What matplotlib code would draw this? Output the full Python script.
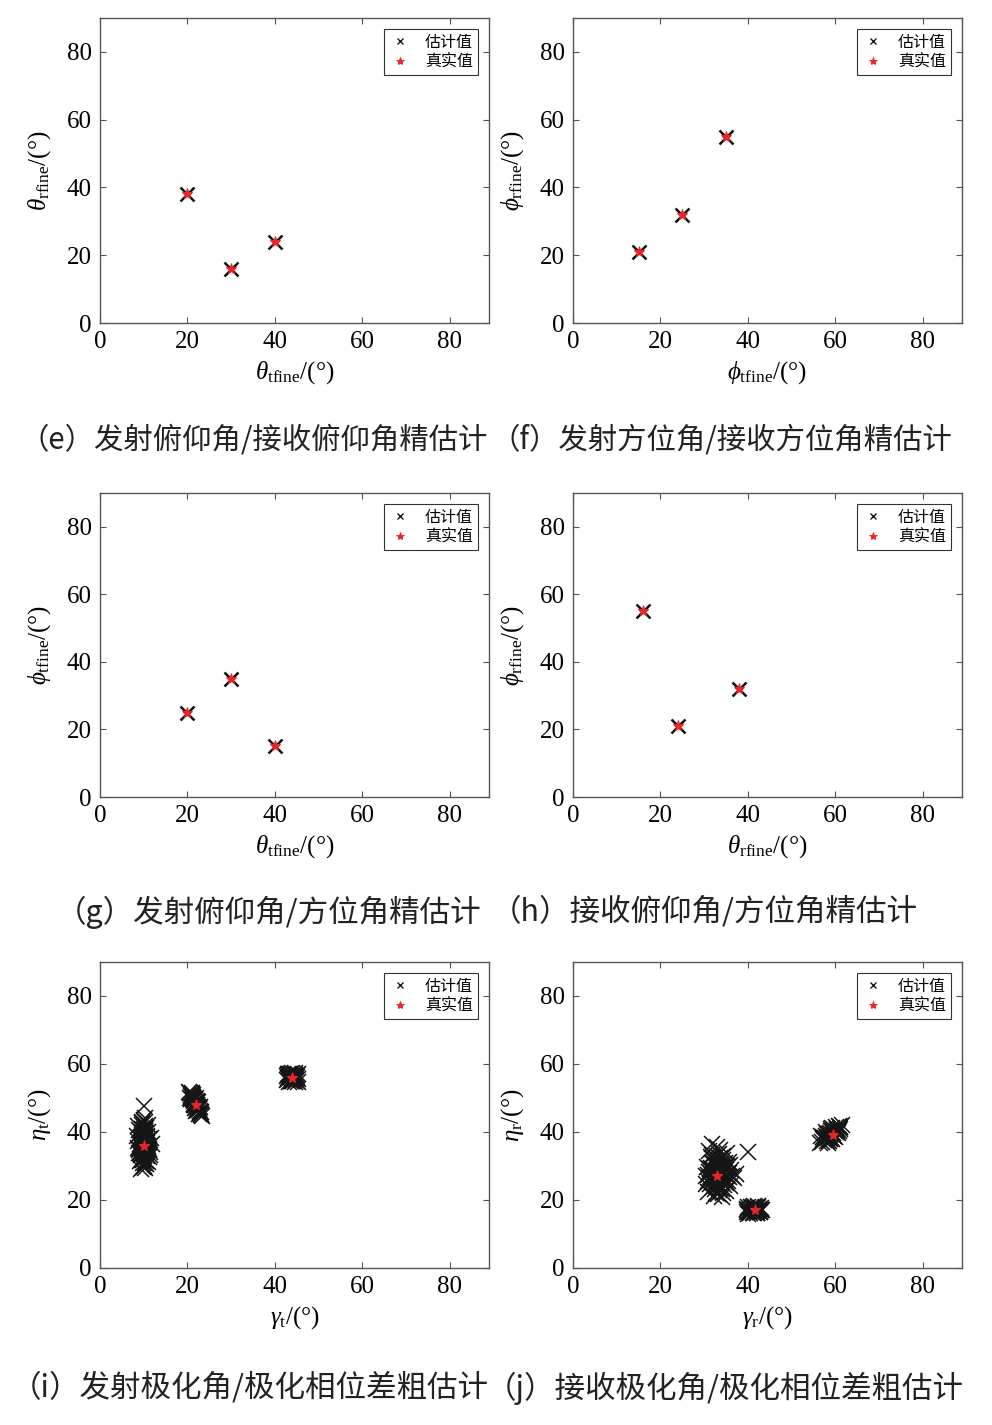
import matplotlib
matplotlib.use("Agg")
import matplotlib.pyplot as plt
from matplotlib.lines import Line2D

plt.rcParams['font.family'] = ['Liberation Serif', 'Noto Sans CJK SC', 'DejaVu Sans']
plt.rcParams['mathtext.fontset'] = 'custom'
plt.rcParams['mathtext.rm'] = 'Liberation Serif'
plt.rcParams['mathtext.it'] = 'Liberation Serif:italic'

# ---------------- data ----------------
ticks = [0, 20, 40, 60, 80]

# (e) theta_t vs theta_r
e_true_x = [20, 30, 40]
e_true_y = [38, 16, 24]
# (f) phi_t vs phi_r
f_true_x = [15, 25, 35]
f_true_y = [21, 32, 55]
# (g) theta_t vs phi_t
g_true_x = [20, 30, 40]
g_true_y = [25, 35, 15]
# (h) theta_r vs phi_r
h_true_x = [16, 24, 38]
h_true_y = [55, 21, 32]

# (i) gamma_t vs eta_t : true values
i_true_x = [10, 22, 44]
i_true_y = [36, 48, 56]
# estimates, cluster 1
i_est1_x = [9.2, 10.5, 9.8, 10.9, 8.6, 11.3, 9.5, 10.1, 10.8, 9.0, 11.6, 10.3, 8.9, 9.7, 10.6,
            11.1, 9.3, 10.0, 8.4, 10.7, 9.9, 11.4, 9.6, 10.2, 8.8, 10.4, 11.8, 9.4, 10.9, 9.1,
            10.5, 11.0, 9.7, 10.3, 8.7, 9.8, 11.2, 10.1, 9.5, 10.6, 10.0, 9.0, 10.4, 11.5, 9.3,
            9.6, 10.2, 9.1, 10.8, 9.9, 10.4, 9.3, 11.0, 10.0, 9.5, 10.7, 9.8, 10.3, 9.2, 10.9,
            9.7, 10.1, 9.4, 10.6, 10.0, 9.9, 10.5, 9.0, 11.2, 9.6, 10.2, 9.8, 10.4, 9.3, 10.7,
            10.1, 9.5, 10.8, 9.7, 10.3, 9.1, 10.6, 9.9, 10.0, 10.4]
i_est1_y = [36.2, 33.5, 39.8, 31.2, 37.4, 35.1, 42.6, 30.0, 34.4, 40.5, 38.2, 29.5, 33.8, 37.0, 41.3,
            32.6, 35.7, 43.5, 38.9, 36.8, 31.9, 34.0, 40.9, 37.7, 35.2, 39.3, 36.5, 33.1, 42.1, 38.0,
            30.7, 40.0, 34.9, 44.0, 41.7, 32.2, 37.9, 35.6, 39.1, 31.4, 47.6, 34.7, 36.9, 33.3, 29.0,
            32.0, 34.8, 36.6, 38.4, 30.9, 40.2, 33.6, 36.0, 41.0, 37.2, 33.0, 39.0, 35.4, 31.6, 37.6,
            42.0, 32.8, 38.6, 35.9, 34.2, 29.8, 39.6, 35.0, 34.6, 43.0, 31.0, 37.0, 41.8, 39.9, 36.3,
            33.4, 35.8, 38.8, 31.8, 42.8, 33.9, 34.1, 36.8, 38.3, 40.6]
# cluster 2
i_est2_x = [21.0, 22.5, 21.6, 23.0, 20.7, 22.1, 21.3, 22.8, 20.4, 21.9, 23.3, 21.5, 22.4, 20.9, 22.0,
            23.1, 21.2, 22.7, 21.8, 20.6, 22.3, 21.4, 23.2, 22.0, 21.1, 22.6, 21.7, 20.8, 22.9, 21.5,
            21.5, 22.2, 21.0, 22.7, 21.8, 20.9, 22.4, 21.3, 22.0, 21.6, 22.9, 21.1, 22.5, 21.9, 20.7,
            22.3, 21.4, 22.1, 21.7, 22.6, 21.2, 22.8, 21.0, 21.8, 22.2]
i_est2_y = [50.5, 47.2, 49.1, 45.3, 51.4, 48.0, 50.0, 46.1, 51.9, 48.8, 44.6, 49.7, 47.5, 51.0, 48.4,
            45.9, 50.8, 46.7, 47.9, 51.6, 46.4, 49.4, 45.0, 49.9, 50.2, 47.0, 48.6, 50.7, 46.0, 48.2,
            49.3, 47.9, 50.9, 46.9, 48.5, 49.6, 46.5, 50.3, 47.4, 48.1, 45.6, 51.2, 48.9, 46.3, 50.1,
            47.7, 48.0, 49.0, 47.1, 45.4, 49.8, 47.5, 51.5, 49.5, 46.8]
# cluster 3
i_est3_x = [43.0, 44.5, 43.8, 45.2, 42.7, 44.0, 45.4, 43.3, 44.8, 42.9, 43.6, 45.0, 44.2, 43.1, 44.7,
            43.9, 45.3, 42.8, 44.4, 43.5, 43.4, 44.1, 44.6, 43.7, 44.9, 43.2, 44.3, 43.8, 45.1, 43.0,
            44.5, 43.6, 44.0, 44.8, 43.3]
i_est3_y = [57.2, 54.8, 56.1, 57.0, 55.2, 57.4, 55.6, 54.6, 56.6, 56.8, 55.0, 56.3, 54.9, 55.9, 57.3,
            56.0, 54.7, 56.4, 55.5, 57.1, 56.5, 55.3, 56.9, 55.4, 55.8, 56.2, 57.0, 54.9, 56.7, 55.6,
            56.0, 57.2, 55.1, 55.2, 57.1]

# (j) gamma_r vs eta_r : true values
j_true_x = [33, 41.6, 59.5]
j_true_y = [27, 17, 39]
j_est1_x = [31.5, 33.2, 34.6, 32.0, 35.4, 30.8, 33.8, 32.6, 36.2, 31.2, 34.1, 33.0, 35.8, 32.3, 30.4,
            34.9, 33.5, 31.8, 36.8, 32.9, 34.4, 31.0, 35.1, 33.7, 32.1, 30.6, 34.0, 35.6, 31.6, 33.3,
            32.5, 36.0, 34.7, 31.3, 33.9, 35.2, 32.8, 30.9, 34.3, 33.1, 37.2, 31.9, 35.0, 32.4, 33.6, 40.0,
            32.7, 33.4, 34.2, 31.7, 35.0, 32.2, 33.9, 34.8, 31.4, 33.1, 32.4, 35.5, 34.5, 32.9, 33.6,
            31.9, 34.1, 33.3, 32.0, 35.3, 33.8, 34.6, 32.6, 31.1, 33.0, 34.9, 32.3, 33.5, 35.7, 32.8,
            34.0, 31.5, 33.2, 34.4, 32.5, 36.4, 31.2, 33.7, 34.7, 32.1, 30.5, 35.9, 33.4, 31.8, 34.3]
j_est1_y = [29.5, 24.3, 27.8, 32.1, 25.6, 22.4, 30.6, 26.2, 28.9, 34.5, 23.1, 35.6, 31.2, 21.3, 27.0,
            25.0, 29.0, 30.8, 26.4, 27.9, 33.0, 25.7, 22.6, 32.4, 23.8, 29.8, 20.8, 28.0, 26.9, 31.5,
            28.5, 24.2, 30.0, 24.7, 26.0, 33.8, 22.0, 27.4, 31.8, 29.3, 27.6, 36.5, 25.3, 30.3, 23.5, 34.0,
            28.2, 26.8, 29.6, 27.3, 28.7, 24.9, 25.4, 31.0, 29.0, 30.1, 23.3, 27.2, 26.1, 32.8, 28.4,
            25.9, 30.4, 22.8, 28.8, 29.9, 27.0, 24.5, 31.6, 26.6, 25.2, 27.5, 30.9, 33.4, 26.8, 24.0,
            28.9, 32.7, 21.8, 29.4, 27.7, 27.0, 28.3, 34.8, 25.8, 26.3, 24.6, 30.2, 23.9, 33.1, 22.2]
j_est2_x = [40.0, 41.2, 42.5, 39.7, 40.8, 42.0, 43.0, 41.6, 40.3, 42.8, 39.9, 41.0, 42.3, 40.6, 41.9,
            43.2, 40.1, 41.4, 42.6, 41.7, 40.5, 41.5, 42.2, 40.9, 41.8, 42.7, 40.2, 41.1, 42.4, 41.3,
            39.8, 42.9, 40.7, 41.9, 42.1]
j_est2_y = [17.8, 16.3, 17.5, 16.6, 18.0, 16.1, 17.2, 17.9, 16.9, 16.4, 17.3, 17.6, 18.1, 16.2, 16.8,
            17.0, 16.0, 18.2, 16.7, 17.4, 17.1, 16.6, 16.9, 17.4, 17.7, 16.5, 16.4, 18.0, 17.8, 16.2,
            17.0, 17.6, 16.7, 17.3, 16.3]
j_est3_x = [57.0, 58.3, 59.8, 60.9, 56.5, 58.8, 61.2, 59.2, 57.7, 60.3, 58.0, 61.5, 59.5, 57.3, 60.6,
            58.6, 56.8, 61.0, 59.0, 60.0, 57.9, 58.4, 58.1, 59.4, 60.2, 57.5, 59.0, 60.8, 58.7, 59.7,
            57.2, 60.5, 58.9, 59.3, 61.0, 57.8, 58.5, 60.1, 59.6, 58.2, 60.4, 59.1]
j_est3_y = [37.2, 38.6, 40.5, 41.8, 36.8, 39.8, 40.9, 38.0, 38.2, 41.0, 39.4, 42.2, 39.2, 37.8, 39.6,
            37.5, 38.9, 41.4, 40.2, 38.4, 40.0, 36.9, 38.1, 39.0, 40.0, 37.6, 40.8, 40.3, 39.2, 38.8,
            38.5, 39.9, 37.9, 41.2, 41.6, 38.9, 39.5, 41.5, 39.7, 37.3, 40.7, 38.3]

labels_x = [r'$\theta_{\rm tfine}$/(°)', r'$\phi_{\rm tfine}$/(°)',
            r'$\theta_{\rm tfine}$/(°)', r'$\theta_{\rm rfine}$/(°)',
            r'$\gamma_{\rm t}$/(°)', r'$\gamma_{\rm r}$/(°)']
labels_y = [r'$\theta_{\rm rfine}$/(°)', r'$\phi_{\rm rfine}$/(°)',
            r'$\phi_{\rm tfine}$/(°)', r'$\phi_{\rm rfine}$/(°)',
            r'$\eta_{\rm t}$/(°)', r'$\eta_{\rm r}$/(°)']
captions = ['（e）发射俯仰角/接收俯仰角精估计', '（f）发射方位角/接收方位角精估计',
            '（g）发射俯仰角/方位角精估计', '（h）接收俯仰角/方位角精估计',
            '（i）发射极化角/极化相位差粗估计', '（j）接收极化角/极化相位差粗估计']
legend_labels = ['估计值', '真实值']

# ---------------- figure ----------------
W, H = 992, 1425
fig = plt.figure(figsize=(W / 100, H / 100), dpi=100)

col_left = [100, 573]
ax_w = 389
rows = [(18, 323), (493, 797), (962, 1268)]
cap_y = [440, 912, 1388]
cap_left = [[20, 491], [56, 491], [11, 486]]
cap_size = [21.2, 22, 22]

axes = []
for r, (top, bot) in enumerate(rows):
    for c in range(2):
        ax = fig.add_axes([col_left[c] / W, 1 - bot / H, ax_w / W, (bot - top) / H])
        axes.append(ax)

gray = '#555555'
for k, ax in enumerate(axes):
    ax.set_xlim(0, 89)
    ax.set_ylim(0, 90)
    ax.set_xticks(ticks)
    ax.set_yticks(ticks)
    ax.tick_params(direction='in', length=4, width=0.8, color=gray, labelsize=18,
                   top=True, right=True, pad=6)
    for s in ax.spines.values():
        s.set_color(gray)
        s.set_linewidth(1.0)
    ax.set_xlabel(labels_x[k], fontsize=18, labelpad=4)
    ax.set_ylabel(labels_y[k], fontsize=18, labelpad=10)

est_kw = dict(linestyle='none', marker='x', color='#111111', markersize=10, mew=1.8)
clu_kw = dict(linestyle='none', marker='x', color='#151515', markersize=11, mew=1.1)
true_kw = dict(linestyle='none', marker='*', color='#e8262a', markersize=8, mew=0.8)

fine = [(e_true_x, e_true_y), (f_true_x, f_true_y), (g_true_x, g_true_y), (h_true_x, h_true_y)]
for k, (tx, ty) in enumerate(fine):
    axes[k].plot(tx, ty, **est_kw)
    axes[k].plot(tx, ty, **true_kw)

axes[4].plot(i_est1_x, i_est1_y, **clu_kw)
axes[4].plot(i_est2_x, i_est2_y, **clu_kw)
axes[4].plot(i_est3_x, i_est3_y, **clu_kw)
axes[4].plot(i_true_x, i_true_y, **true_kw)

axes[5].plot(j_est1_x, j_est1_y, **clu_kw)
axes[5].plot(j_est2_x, j_est2_y, **clu_kw)
axes[5].plot(j_est3_x, j_est3_y, **clu_kw)
axes[5].plot(j_true_x, j_true_y, **true_kw)

handles = [Line2D([], [], linestyle='none', marker='x', color='black', markersize=5, mew=0.9),
           Line2D([], [], linestyle='none', marker='*', color='#e8262a', markersize=6, mew=0.6)]
for ax in axes:
    leg = ax.legend(handles, legend_labels, loc='upper right', fancybox=False, framealpha=1,
                    edgecolor='#333333', borderpad=0.3, handlelength=1.5, handletextpad=0.8,
                    labelspacing=0.15, borderaxespad=0.7,
                    prop={'family': ['Noto Sans CJK SC'], 'size': 11.5})
    leg.get_frame().set_linewidth(0.8)

for r in range(3):
    for c in range(2):
        fig.text(cap_left[r][c] / W, 1 - cap_y[r] / H, captions[r * 2 + c], ha='left', va='center',
                 fontsize=cap_size[r], family=['Noto Sans CJK SC'], color='#222222')

fig.savefig('out.png', dpi=100)
